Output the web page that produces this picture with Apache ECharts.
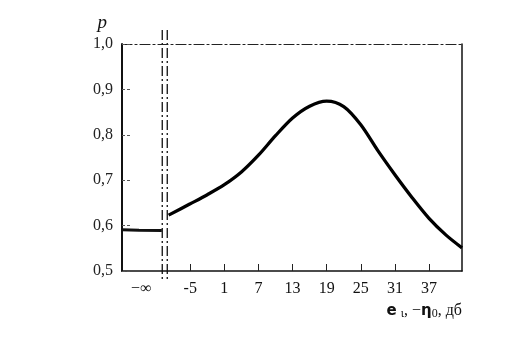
<!DOCTYPE html>
<html>
<head>
<meta charset="utf-8">
<script src="https://cdn.jsdelivr.net/npm/echarts@6/dist/echarts.min.js"></script>
<style>html,body{margin:0;padding:0;background:#fff}#c{width:509px;height:357px}</style>
</head>
<body>
<div id="c"></div>
<script>
// ---- data ----
var xTicks = [-5, 1, 7, 13, 19, 25, 31, 37];
var infPos = -13.6;          // position of the "−∞" label in the left (break) zone
var breakAt = [-9.92, -9.04]; // the two break lines
var yTicks = [0.5, 0.6, 0.7, 0.8, 0.9, 1.0];
var infX = [-17, -14, -10];
var infP = [0.591, 0.590, 0.589];
var curveX = [-8.8, -5, -2, 1, 4, 7, 10, 13, 16, 19, 22, 25, 28, 31, 34, 37, 40, 42.8];
var curveP = [0.623, 0.648, 0.668, 0.690, 0.718, 0.755, 0.798, 0.837, 0.863, 0.874, 0.862, 0.822, 0.765, 0.712, 0.662, 0.616, 0.579, 0.551];

var XMIN = -17, XMAX = 42.8;
var serif = '"Liberation Serif", "DejaVu Serif", serif';

function pairs(xs, ys) { return xs.map(function (x, i) { return [x, ys[i]]; }); }

var chart = echarts.init(document.getElementById('c'), null, {renderer: 'canvas'});
var option = {
  animation: false,
  backgroundColor: '#fff',
  grid: {left: 122, right: 47, top: 44, bottom: 86},
  xAxis: [{
    type: 'value', min: XMIN, max: XMAX, position: 'bottom',
    splitLine: {show: false},
    axisLine: {onZero: false, lineStyle: {color: '#111', width: 1.5}},
    axisTick: {show: true, inside: true, length: 7, customValues: xTicks, lineStyle: {color: '#222', width: 1}},
    axisLabel: {
      customValues: [infPos].concat(xTicks), margin: 10,
      fontFamily: serif, fontSize: 16, color: '#111',
      formatter: function (v) { return v < -10 ? '−∞' : (v < 0 ? '-' + Math.abs(v) : String(v)); }
    },
    name: '{b|e} {s|ι}, −{b|η}{s|0}, дб',
    nameLocation: 'end', nameGap: 0,
    nameTextStyle: {
      align: 'right', verticalAlign: 'top', padding: [31, 0, 0, 0],
      fontFamily: serif, fontSize: 16, color: '#111',
      rich: {
        b: {fontFamily: '"DejaVu Sans", sans-serif', fontWeight: 'bold', fontSize: 15, color: '#111'},
        s: {fontFamily: serif, fontSize: 12, color: '#111', verticalAlign: 'bottom', padding: [6, 0, 0, 0]}
      }
    }
  }, {
    type: 'value', min: XMIN, max: XMAX, position: 'top',
    splitLine: {show: false}, axisTick: {show: false}, axisLabel: {show: false},
    axisLine: {onZero: false, lineStyle: {color: '#222', width: 1.2, type: [10, 3, 2, 3]}}
  }],
  yAxis: [{
    type: 'value', min: 0.5, max: 1.0, interval: 0.1, position: 'left',
    splitLine: {show: false},
    axisLine: {show: true, onZero: false, lineStyle: {color: '#111', width: 2}},
    axisTick: {show: true, inside: true, length: 9, lineStyle: {color: '#555', width: 1, type: [3, 2]}},
    axisLabel: {
      margin: 9, fontFamily: serif, fontSize: 16, color: '#222',
      formatter: function (v) { return v.toFixed(1).replace('.', ','); }
    },
    name: 'p', nameLocation: 'end', nameGap: 12,
    nameTextStyle: {fontFamily: serif, fontStyle: 'italic', fontSize: 19, color: '#111', align: 'right', padding: [0, 15, 0, 0]}
  }, {
    type: 'value', min: 0.5, max: 1.0, position: 'right',
    splitLine: {show: false}, axisTick: {show: false}, axisLabel: {show: false},
    axisLine: {show: true, onZero: false, lineStyle: {color: '#111', width: 1.5}}
  }],
  series: [{
    type: 'line', data: pairs(infX, infP), smooth: true, symbol: 'none',
    lineStyle: {color: '#111', width: 3}
  }, {
    type: 'line', data: pairs(curveX, curveP), smooth: 0.3, symbol: 'none',
    lineStyle: {color: '#000', width: 3.3}
  }]
};
chart.setOption(option);

// break marks: two dash-dot verticals crossing the frame, placed via the x scale
var g = [];
breakAt.forEach(function (bx) {
  var top = chart.convertToPixel({xAxisIndex: 0, yAxisIndex: 0}, [bx, 1.0]);
  var bot = chart.convertToPixel({xAxisIndex: 0, yAxisIndex: 0}, [bx, 0.5]);
  g.push({
    type: 'line', silent: true,
    shape: {x1: top[0], y1: top[1] - 14, x2: bot[0], y2: bot[1] + 11},
    style: {stroke: '#111', lineWidth: 1.3, lineDash: [10, 3, 2, 3]}
  });
});
chart.setOption({graphic: g});
</script>
</body>
</html>
